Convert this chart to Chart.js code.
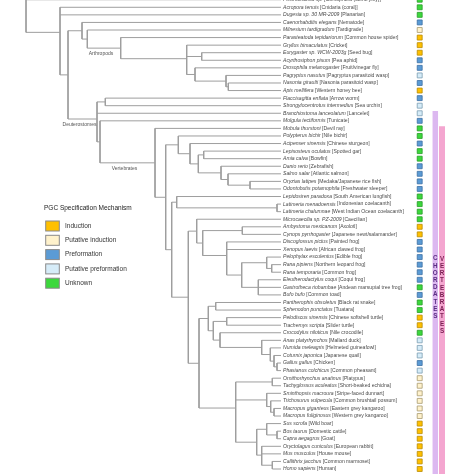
<!DOCTYPE html>
<html>
<head>
<meta charset="utf-8">
<script src="https://cdn.jsdelivr.net/npm/chart.js@4.4.1/dist/chart.umd.min.js"></script>
<style>
  html, body { margin: 0; padding: 0; background: #fff; }
  #wrap { width: 474px; height: 474px; }
</style>
</head>
<body>
<div id="wrap"><canvas id="treeChart" width="474" height="474"></canvas></div>
<script>
// Leaves, top to bottom
const species = [
  'Pleurobrachia sp.', 'Acropora tenuis', 'Dugesia sp. 30 MR-2009', 'Caenorhabditis elegans',
  'Milnesium tardigradum', 'Parasteatoda tepidariorum', 'Gryllus bimaculatus', 'Eurygaster sp. WCW-2003g',
  'Acyrthosiphon pisum', 'Drosophila melanogaster', 'Pagryptus nasutus', 'Nasonia giraulti',
  'Apis mellifera', 'Flaccisagitta enflata', 'Strongylocentrotus intermedius', 'Branchiostoma lanceolatum',
  'Molgula tectiformis', 'Mobula thurstoni', 'Polypterus bichir', 'Acipenser sinensis',
  'Lepisosteus oculatus', 'Amia calva', 'Danio rerio', 'Salmo salar',
  'Oryzias latipes', 'Odontobutis potamophila', 'Lepidosiren paradoxa', 'Latimeria menadoensis',
  'Latimeria chalumnae', 'Microcaecilia sp. PZ-2009', 'Ambystoma mexicanum', 'Cynops pyrrhogaster',
  'Discoglossus pictus', 'Xenopus laevis', 'Pelophylax esculentus', 'Rana pipiens',
  'Rana temporaria', 'Eleutherodactylus coqui', 'Gastrotheca riobambae', 'Bufo bufo',
  'Pantherophis obsoletus', 'Sphenodon punctatus', 'Pelodiscus sinensis', 'Trachemys scripta',
  'Crocodylus niloticus', 'Anas platyrhynchos', 'Numida meleagris', 'Coturnix japonica',
  'Gallus gallus', 'Phasianus colchicus', 'Ornithorhynchus anatinus', 'Tachyglossus aculeatus',
  'Sminthopsis macroura', 'Trichosurus vulpecula', 'Macropus giganteus', 'Macropus fuliginosus',
  'Sus scrofa', 'Bos taurus', 'Capra aegagrus', 'Oryctolagus cuniculus',
  'Mus musculus', 'Callithrix jacchus', 'Homo sapiens'
];

const commonNames = [
  'Ctenophora (comb jelly)', 'Cnidaria (coral)', 'Planarian', 'Nematode',
  'Tardigrade', 'Common house spider', 'Cricket', 'Seed bug',
  'Pea aphid', 'Fruit/vinegar fly', 'Pagryptus parasitoid wasp', 'Nasonia parasitoid wasp',
  'Western honey bee', 'Arrow worm', 'Sea urchin', 'Lancelet',
  'Tunicate', 'Devil ray', 'Nile bichir', 'Chinese sturgeon',
  'Spotted gar', 'Bowfin', 'Zebrafish', 'Atlantic salmon',
  'Medaka/Japanese rice fish', 'Freshwater sleeper', 'South American lungfish', 'Indonesian coelacanth',
  'West Indian Ocean coelacanth', 'Caecilian', 'Axolotl', 'Japanese newt/salamander',
  'Painted frog', 'African clawed frog', 'Edible frog', 'Northern leopard frog',
  'Common frog', 'Coqui frog', 'Andean marsupial tree frog', 'Common toad',
  'Black rat snake', 'Tuatara', 'Chinese softshell turtle', 'Slider turtle',
  'Nile crocodile', 'Mallard duck', 'Helmeted guineafowl', 'Japanese quail',
  'Chicken', 'Common pheasant', 'Platypus', 'Short-beaked echidna',
  'Stripe-faced dunnart', 'Common brushtail possum', 'Eastern grey kangaroo', 'Western grey kangaroo',
  'Wild boar', 'Domestic cattle', 'Goat', 'European rabbit',
  'House mouse', 'Common marmoset', 'Human'
];

// I = induction, PI = putative induction, P = preformation, PP = putative preformation, U = unknown
const mechanism = [
  'U', 'U', 'U', 'P', 'PI', 'I', 'I', 'I', 'P', 'P', 'PP', 'P', 'I', 'P', 'PP', 'PP',
  'P', 'U', 'U', 'P', 'U', 'U', 'P', 'P', 'P', 'P', 'U', 'U', 'U', 'U', 'I', 'I',
  'P', 'P', 'P', 'P', 'P', 'P', 'U', 'P', 'U', 'U', 'I', 'I', 'U', 'PP', 'PP', 'PP',
  'P', 'PP', 'PI', 'PI', 'PI', 'PI', 'PI', 'PI', 'I', 'I', 'I', 'I', 'I', 'I', 'I'
];

const mechKeys = ['I', 'PI', 'P', 'PP', 'U'];
const mechLabels = ['Induction', 'Putative induction', 'Preformation', 'Putative preformation', 'Unknown'];

// Tree: internal nodes, their depth and children (numbers = leaf rows)
const cladeIds = [
  'ROOT', 'BIL', 'PROTO', 'ECDY', 'PANARTH', 'ARTH', 'INSECTA', 'HEMI', 'HOLO', 'HYM', 'HYM2',
  'DEUT', 'AMB', 'OLF', 'VERT', 'OSTE', 'ACTINO', 'ACT2', 'NEO', 'HOLOST', 'TELEO', 'T2', 'T3',
  'SARCO', 'DIPCOEL', 'COEL', 'TETRA', 'AMPH', 'BATR', 'CAUD', 'ANURA', 'NEOB', 'RANID', 'RANA', 'HYLO',
  'AMNI', 'SAUR', 'LEPI', 'ARCHEL', 'TEST', 'ARCHO', 'AVES', 'GALL', 'PHAS', 'GP',
  'MAMM', 'MONO', 'MARS', 'DIPRO', 'MACRO', 'EUTH', 'LAUR', 'RUMI', 'EUAR', 'PRIM'
];
const cladeDepth = [
  26, 60, 68, 82, 87.3, 120.7, 186.7, 201.7, 195, 226, 228.3,
  97, 105.3, 100, 155, 165.7, 178.3, 190, 198.3, 203.7, 221, 228, 250,
  171.7, 176.7, 277, 188.3, 196.7, 202.7, 242.3, 226.7, 241.7, 266.7, 271.7, 258.3,
  199, 208.3, 215.7, 213.3, 226.7, 220, 261.7, 270.3, 274, 277,
  235.7, 272.3, 266.7, 270.7, 274, 256.7, 266.7, 277, 261.7, 272.3
];
const cladeKids = [
  [0, 'BIL'], [1, 2, 'PROTO'], ['ECDY', 'DEUT'], [3, 'PANARTH'], [4, 'ARTH'], [5, 'INSECTA'],
  [6, 'HEMI', 'HOLO'], [7, 8], [9, 'HYM'], [10, 'HYM2'], [11, 12],
  ['AMB', 15, 'OLF'], [13, 14], [16, 'VERT'], [17, 'OSTE'], ['ACTINO', 'SARCO'], [18, 'ACT2'],
  [19, 'NEO'], ['HOLOST', 'TELEO'], [20, 21], [22, 'T2'], [23, 'T3'], [24, 25],
  ['DIPCOEL', 'TETRA'], [26, 'COEL'], [27, 28], ['AMPH', 'AMNI'], [29, 'BATR'], ['CAUD', 'ANURA'],
  [30, 31], [32, 33, 'NEOB'], ['RANID', 'HYLO'], [34, 'RANA'], [35, 36], [37, 38, 39],
  ['SAUR', 'MAMM'], ['LEPI', 'ARCHEL'], [40, 41], ['TEST', 'ARCHO'], [42, 43], [44, 'AVES'],
  [45, 'GALL'], [46, 'PHAS'], [47, 'GP'], [48, 49],
  ['MONO', 'MARS', 'EUTH'], [50, 51], [52, 'DIPRO'], [53, 'MACRO'], [54, 55],
  ['LAUR', 'EUAR'], [56, 'RUMI'], [57, 58], [59, 60, 'PRIM'], [61, 62]
];
const tipDepth = 281;

const cladeLabels = { ARTH: 'Arthropods', DEUT: 'Deuterostomes', VERT: 'Vertebrates' };

const groupNames = ['CHORDATES', 'VERTEBRATES'];
const groupFirstRow = [15, 17];

// Styles
const MECH_FILL = { I: '#ffc000', PI: '#fff2cc', P: '#5b9bd5', PP: '#d6ecf8', U: '#3cd83c' };
const MECH_EDGE = { I: '#b88a00', PI: '#a89a70', P: '#3b6fa3', PP: '#7b9db3', U: '#279a27' };
const GROUP_FILL = ['#dcb8f0', '#f4a6d0'];
const GROUP_TEXT = ['#5a2d82', '#7b1d52'];
const GROUP_X = [435.3, 442];
const GROUP_W = [5.5, 6];
const SQUARE_X = 419.7;
const LINE_COLOR = '#9e9e9e';
const FONT = '"Liberation Sans", Arial, sans-serif';

const ROWS = species.length;
const Y_MIN = 0.036, Y_MAX = 62.66;

// =============================================
// Build tree geometry from the named arrays
// =============================================
const cladeIndex = {};
cladeIds.forEach((id, i) => cladeIndex[id] = i);

const nodeY = {};
function yOf(k) {
  if (typeof k === 'number') return k;
  if (nodeY[k] !== undefined) return nodeY[k];
  const kids = cladeKids[cladeIndex[k]];
  const v = kids.reduce((s, c) => s + yOf(c), 0) / kids.length;
  nodeY[k] = v;
  return v;
}
function depthOf(k) {
  return typeof k === 'number' ? tipDepth : cladeDepth[cladeIndex[k]];
}

const parentOf = {};
const treePoints = [];
const gap = { x: NaN, y: NaN };
cladeIds.forEach((id, i) => {
  const kids = cladeKids[i];
  const ys = kids.map(yOf);
  const d = cladeDepth[i];
  treePoints.push({ x: d, y: Math.min(...ys) }, { x: d, y: Math.max(...ys) }, gap);
  kids.forEach(k => {
    if (typeof k === 'string') parentOf[k] = id;
    treePoints.push({ x: d, y: yOf(k) }, { x: depthOf(k), y: yOf(k) }, gap);
  });
});

const squarePoints = species.map((s, i) => ({ x: SQUARE_X, y: i }));

const groupDatasets = groupNames.map((g, i) => ({
  label: g,
  data: [{ x: GROUP_X[i], y: groupFirstRow[i] - 0.3 }, { x: GROUP_X[i], y: ROWS + 1 }],
  showLine: true,
  borderColor: GROUP_FILL[i],
  borderWidth: GROUP_W[i],
  borderCapStyle: 'butt',
  pointRadius: 0,
}));

// =============================================
// Text (leaf labels, clade labels, group letters, legend)
// =============================================
const textPlugin = {
  id: 'treeText',
  afterDatasetsDraw(chart) {
    const { ctx, scales: { x, y } } = chart;
    ctx.save();
    ctx.textBaseline = 'middle';

    // leaf labels
    species.forEach((sp, i) => {
      const px = x.getPixelForValue(tipDepth + 2);
      const py = y.getPixelForValue(i);
      ctx.fillStyle = '#4a4a4a';
      ctx.font = 'italic 5.1px ' + FONT;
      ctx.fillText(sp, px, py);
      const w = ctx.measureText(sp + ' ').width;
      ctx.font = '5.1px ' + FONT;
      ctx.fillText('[' + commonNames[i] + ']', px + w, py);
    });

    // clade labels under their stems
    ctx.textAlign = 'center';
    ctx.font = '5px ' + FONT;
    ctx.fillStyle = '#555';
    Object.keys(cladeLabels).forEach(id => {
      const p = parentOf[id];
      const cx = (x.getPixelForValue(depthOf(p)) + x.getPixelForValue(depthOf(id))) / 2;
      ctx.fillText(cladeLabels[id], cx - 3, y.getPixelForValue(yOf(id)) + 5.5);
    });

    // vertical group letters
    ctx.font = 'bold 6.3px ' + FONT;
    groupNames.forEach((g, i) => {
      const top = y.getPixelForValue(groupFirstRow[i] - 0.3);
      const bottom = chart.chartArea.bottom;
      const step = 7.2;
      const mid = (top + bottom) / 2 - 5;
      const start = mid - (g.length - 1) * step / 2;
      ctx.fillStyle = GROUP_TEXT[i];
      g.split('').forEach((ch, j) => ctx.fillText(ch, x.getPixelForValue(GROUP_X[i]), start + j * step));
    });

    // legend
    ctx.textAlign = 'left';
    ctx.fillStyle = '#222';
    ctx.font = '6.5px ' + FONT;
    ctx.fillText('PGC Specification Mechanism', 44, 208.7);
    mechKeys.forEach((k, i) => {
      const cy = 226 + i * 14.3;
      ctx.fillStyle = MECH_FILL[k];
      ctx.fillRect(45.7, cy - 5, 13.6, 10);
      ctx.strokeStyle = '#8a8a8a';
      ctx.lineWidth = 1;
      ctx.strokeRect(45.7, cy - 5, 13.6, 10);
      ctx.fillStyle = '#333';
      ctx.fillText(mechLabels[i], 65, cy);
    });
    ctx.restore();
  }
};

new Chart(document.getElementById('treeChart'), {
  type: 'scatter',
  data: {
    datasets: [
      ...groupDatasets,
      {
        label: 'tree',
        data: treePoints,
        showLine: true,
        spanGaps: false,
        borderColor: LINE_COLOR,
        borderWidth: 1,
        pointRadius: 0,
      },
      {
        label: 'mechanism',
        data: squarePoints,
        pointStyle: 'rect',
        pointRadius: 3.5,
        pointBackgroundColor: mechanism.map(m => MECH_FILL[m]),
        pointBorderColor: mechanism.map(m => MECH_EDGE[m]),
        pointBorderWidth: 0.8,
        showLine: false,
      },
    ]
  },
  options: {
    responsive: false,
    animation: false,
    devicePixelRatio: 1,
    layout: { padding: 0, autoPadding: false },
    plugins: { legend: { display: false }, tooltip: { enabled: false } },
    scales: {
      x: { type: 'linear', min: 0, max: 474, display: false },
      y: { type: 'linear', min: Y_MIN, max: Y_MAX, reverse: true, display: false },
    }
  },
  plugins: [textPlugin]
});
</script>
</body>
</html>
